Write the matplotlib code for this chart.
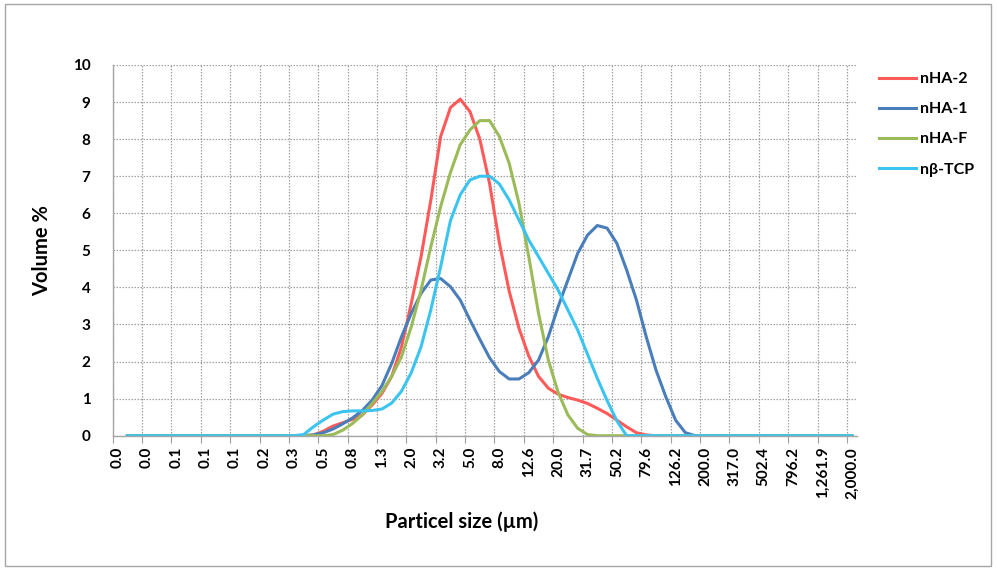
import numpy as np
import matplotlib
matplotlib.use("Agg")
import matplotlib.pyplot as plt
from matplotlib.patches import Rectangle

plt.rcParams['font.family'] = ['Lato', 'DejaVu Sans']

nan = float('nan')

# particle size categories (every third one labelled)
tick_labels = ["0.0", "0.0", "0.1", "0.1", "0.1", "0.2", "0.3", "0.5", "0.8", "1.3",
               "2.0", "3.2", "5.0", "8.0", "12.6", "20.0", "31.7", "50.2", "79.6",
               "126.2", "200.0", "317.0", "502.4", "796.2", "1,261.9", "2,000.0"]

series_names = ["nHA-2", "nHA-1", "nHA-F", "n\u03b2-TCP"]

nHA_2 = [nan, 0, 0, 0, 0, 0, 0, 0, 0, 0,
         0, 0, 0, 0, 0, 0, 0, 0, 0, 0,
         0.02, 0.12, 0.26, 0.35, 0.44, 0.56, 0.83, 1.14, 1.6, 2.4,
         3.57, 4.83, 6.36, 8.07, 8.85, 9.08, 8.74, 8.0, 6.8, 5.2,
         3.9, 2.9, 2.15, 1.6, 1.28, 1.12, 1.03, 0.96, 0.87, 0.74,
         0.6, 0.42, 0.24, 0.08, 0.02, 0, 0, 0, 0, 0,
         0, 0, 0, 0, 0, 0, 0, 0, 0, 0,
         0, 0, 0, 0, 0, 0]

nHA_1 = [nan, 0, 0, 0, 0, 0, 0, 0, 0, 0,
         0, 0, 0, 0, 0, 0, 0, 0, 0, 0,
         0.02, 0.08, 0.18, 0.32, 0.48, 0.68, 0.96, 1.35, 1.95, 2.67,
         3.3, 3.84, 4.2, 4.24, 4.02, 3.66, 3.12, 2.6, 2.1, 1.73,
         1.53, 1.53, 1.7, 2.04, 2.67, 3.48, 4.2, 4.92, 5.41, 5.67,
         5.6, 5.19, 4.47, 3.66, 2.67, 1.77, 1.05, 0.42, 0.08, 0,
         0, 0, 0, 0, 0, 0, 0, 0, 0, 0,
         0, 0, 0, 0, 0, 0]

nHA_F = [nan, 0, 0, 0, 0, 0, 0, 0, 0, 0,
         0, 0, 0, 0, 0, 0, 0, 0, 0, 0,
         0, 0, 0.03, 0.15, 0.33, 0.56, 0.87, 1.19, 1.6, 2.13,
         2.94, 3.93, 5.1, 6.18, 7.1, 7.85, 8.25, 8.5, 8.5, 8.07,
         7.35, 6.27, 4.83, 3.3, 2.04, 1.17, 0.56, 0.2, 0.03, 0,
         0, 0, 0, 0, 0, 0, 0, 0, 0, 0,
         0, 0, 0, 0, 0, 0, 0, 0, 0, 0,
         0, 0, 0, 0, 0, 0]

nb_TCP = [nan, 0, 0, 0, 0, 0, 0, 0, 0, 0,
          0, 0, 0, 0, 0, 0, 0, 0, 0, 0.03,
          0.24, 0.42, 0.58, 0.65, 0.67, 0.67, 0.68, 0.72, 0.88, 1.2,
          1.7, 2.4, 3.4, 4.56, 5.8, 6.5, 6.9, 7.0, 7.0, 6.79,
          6.36, 5.82, 5.28, 4.83, 4.38, 3.93, 3.39, 2.85, 2.2, 1.55,
          0.95, 0.4, 0, 0, 0, 0, 0, 0, 0, 0,
          0, 0, 0, 0, 0, 0, 0, 0, 0, 0,
          0, 0, 0, 0, 0, 0]

colors = ["#FF5A5A", "#4A7EBB", "#9BBB59", "#3CC4F0"]

W, H = 997, 571
fig = plt.figure(figsize=(W / 100, H / 100), dpi=100)

# outer chart border
fig.patches.append(Rectangle((5 / W, 1 - 566 / H), 986 / W, 562 / H,
                             transform=fig.transFigure, fill=False,
                             edgecolor="#A6A6A6", linewidth=1.0))

left, right, top, bottom = 112.7, 856.7, 65.0, 435.7
ax = fig.add_axes([left / W, 1 - bottom / H, (right - left) / W, (bottom - top) / H])

x = np.arange(len(nHA_2))
for vals, name, c in zip([nHA_2, nHA_1, nHA_F, nb_TCP], series_names, colors):
    ax.plot(x, vals, color=c, linewidth=2.2, label=name, solid_joinstyle='round')

ax.set_xlim(-0.5, len(nHA_2) - 0.5)
ax.set_ylim(0, 10)

# labels every third category
ax.set_xticks(np.arange(0, len(nHA_2), 3))
ax.set_xticklabels(tick_labels, rotation=90, fontsize=11, fontweight='bold')
ax.tick_params(axis='x', which='major', length=0, pad=8)
ax.set_xticks(np.arange(-0.5, len(nHA_2) - 1, 3), minor=True)
ax.tick_params(axis='x', which='minor', length=5, color="#A0A0A0", width=0.8)

ax.set_yticks(np.arange(0, 11, 1))
ax.set_yticklabels([str(v) for v in range(11)], fontsize=11, fontweight='bold')
ax.tick_params(axis='y', length=0, pad=16)

grid_kw = dict(color="#A0A0A0", linestyle=(0, (1.2, 1.2)), linewidth=0.9)
ax.grid(True, axis='y', which='major', **grid_kw)
ax.grid(True, axis='x', which='minor', **grid_kw)
ax.grid(False, axis='x', which='major')
ax.set_axisbelow(True)

for s in ['top', 'right']:
    ax.spines[s].set_visible(False)
for s in ['left', 'bottom']:
    ax.spines[s].set_color("#A6A6A6")
    ax.spines[s].set_linewidth(1.0)

fig.text(462 / W, 1 - 522 / H, "Particel size (\u00b5m)", ha='center', va='center',
         fontsize=14.5, fontweight='bold')
fig.text(42 / W, 1 - 251 / H, "Volume %", ha='center', va='center', rotation=90,
         fontsize=14.5, fontweight='bold')

leg = ax.legend(loc='upper left', bbox_to_anchor=(879 / W, 1 - 72 / H),
                bbox_transform=fig.transFigure, frameon=False,
                prop={'weight': 'bold', 'size': 11.5}, handlelength=2.3,
                handletextpad=0.25, labelspacing=1.0, borderpad=0, borderaxespad=0)

fig.savefig("out.png", dpi=100)
